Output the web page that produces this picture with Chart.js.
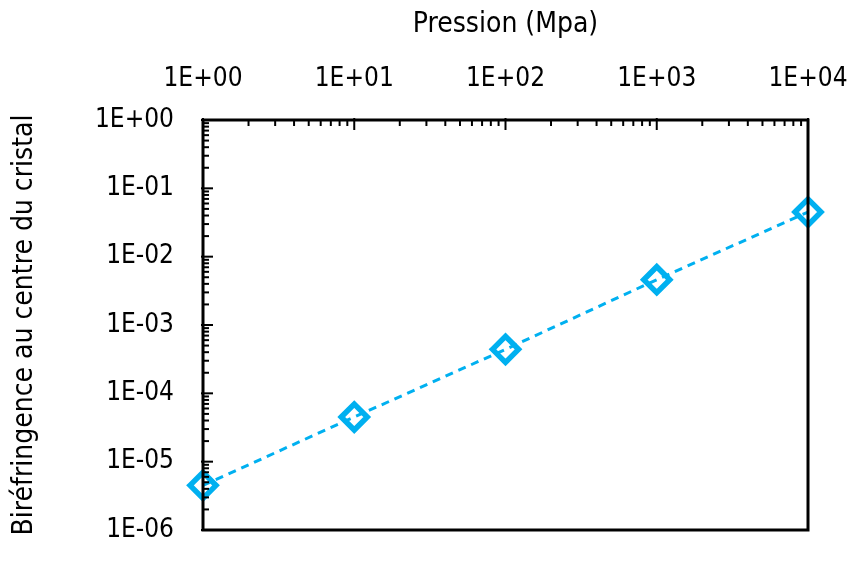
<!DOCTYPE html>
<html>
<head>
<meta charset="utf-8">
<script src="https://cdn.jsdelivr.net/npm/chart.js@4.4.0/dist/chart.umd.min.js"></script>
<style>
  html, body { margin: 0; padding: 0; background: #fff; }
  #wrap { width: 850px; height: 567px; }
</style>
</head>
<body>
<div id="wrap"><canvas id="chart"></canvas></div>
<script>
// Data
const pressure = [1, 10, 100, 1000, 10000];
const birefringence = [4.5e-6, 4.5e-5, 4.4e-4, 4.6e-3, 4.5e-2];
const xDecades = [0, 1, 2, 3, 4];
const yDecades = [-6, -5, -4, -3, -2, -1, 0];

const FONT = '"Liberation Sans Narrow", "DejaVu Sans Condensed", "Open Sans", sans-serif';
const LINE_COLOR = '#00B0F0';

function sciLabel(v) {
    const e = Math.round(Math.log10(v));
    if (Math.abs(v - Math.pow(10, e)) > Math.pow(10, e) * 1e-6) return '';
    const sign = e < 0 ? '-' : '+';
    const abs = Math.abs(e);
    return '1E' + sign + (abs < 10 ? '0' : '') + abs;
}

// Inward tick marks and box frame, drawn from the scales
const frameTicks = {
    id: 'frameTicks',
    afterDatasetsDraw(chart) {
        const { ctx, chartArea, scales } = chart;
        const xs = scales.x, ys = scales.y;
        ctx.save();
        ctx.strokeStyle = '#000';
        ctx.lineWidth = 2;
        // y ticks along left edge
        yDecades.forEach((d, i) => {
            for (let m = 1; m <= 9; m++) {
                if (i === yDecades.length - 1 && m > 1) break;
                const y = ys.getPixelForValue(m * Math.pow(10, d));
                const len = m === 1 ? 10 : 6;
                ctx.beginPath();
                ctx.moveTo(chartArea.left - (m === 1 ? 2 : 0), y);
                ctx.lineTo(chartArea.left + len, y);
                ctx.stroke();
            }
        });
        // x ticks along top edge
        xDecades.forEach((d, i) => {
            for (let m = 1; m <= 9; m++) {
                if (i === xDecades.length - 1 && m > 1) break;
                const x = xs.getPixelForValue(m * Math.pow(10, d));
                const len = m === 1 ? 10 : 6;
                ctx.beginPath();
                ctx.moveTo(x, chartArea.top - (m === 1 ? 2 : 0));
                ctx.lineTo(x, chartArea.top + len);
                ctx.stroke();
            }
        });
        ctx.lineWidth = 3;
        ctx.strokeRect(chartArea.left, chartArea.top,
            chartArea.right - chartArea.left, chartArea.bottom - chartArea.top);
        ctx.restore();
    }
};

new Chart(document.getElementById('chart'), {
    type: 'scatter',
    data: {
        datasets: [{
            data: pressure.map((p, i) => ({ x: p, y: birefringence[i] })),
            showLine: true,
            borderColor: LINE_COLOR,
            borderWidth: 3,
            borderDash: [8, 6],
            pointStyle: 'rectRot',
            pointRadius: 13,
            pointBorderWidth: 5.5,
            pointBorderColor: LINE_COLOR,
            pointBackgroundColor: 'rgba(255,255,255,0)',
            clip: false
        }]
    },
    options: {
        responsive: true,
        maintainAspectRatio: false,
        animation: false,
        layout: { padding: { left: 0, right: 0, top: 0, bottom: 37 } },
        plugins: {
            legend: { display: false },
            tooltip: { enabled: false }
        },
        scales: {
            x: {
                type: 'logarithmic',
                position: 'top',
                min: 1,
                max: 10000,
                afterFit(scale) {
                    scale.height = 120;
                    scale.paddingLeft = 0;
                    scale.paddingRight = 42;
                },
                grid: { display: false },
                border: { display: false },
                ticks: {
                    autoSkip: false,
                    maxRotation: 0,
                    padding: 17,
                    color: '#000',
                    font: { family: FONT, size: 26 },
                    callback: (v) => sciLabel(v)
                },
                title: {
                    display: true,
                    text: 'Pression (Mpa)',
                    color: '#000',
                    font: { family: FONT, size: 28 },
                    padding: { top: 8, bottom: 0 }
                }
            },
            y: {
                type: 'logarithmic',
                min: 1e-6,
                max: 1,
                afterFit(scale) { scale.width = 203; },
                grid: { display: false },
                border: { display: false },
                ticks: {
                    autoSkip: false,
                    padding: 21,
                    color: '#000',
                    font: { family: FONT, size: 26 },
                    callback: (v) => sciLabel(v)
                },
                title: {
                    display: true,
                    text: 'Biréfringence au centre du cristal',
                    color: '#000',
                    font: { family: FONT, size: 28 },
                    padding: { top: 8, bottom: 0 }
                }
            }
        }
    },
    plugins: [frameTicks]
});
</script>
</body>
</html>
